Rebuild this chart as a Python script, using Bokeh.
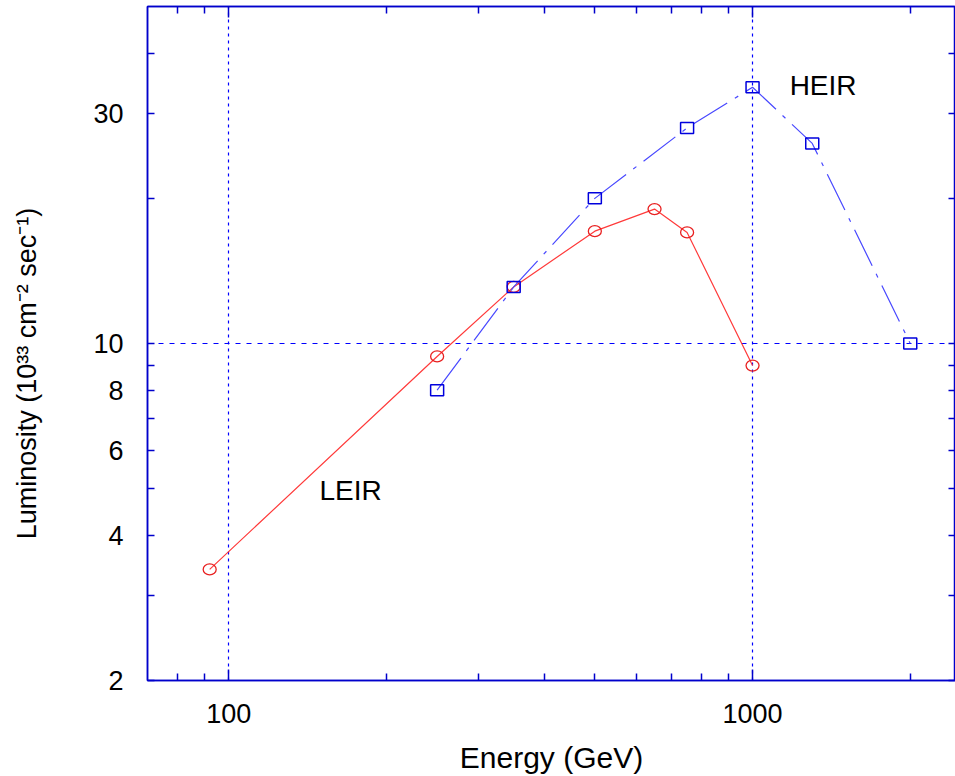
from bokeh.plotting import figure
from bokeh.models import LogAxis, FixedTicker, PrintfTickFormatter, Range1d, ColumnDataSource
from bokeh.embed import file_html
from bokeh.resources import INLINE
from bokeh.core.properties import value

# ---- data ----
leir_energy = [92, 250, 350, 500, 650, 750, 1000]
leir_lumi = [3.4, 9.4, 13.1, 17.1, 19.0, 17.0, 9.0]
heir_energy = [250, 350, 500, 750, 1000, 1300, 2000]
heir_lumi = [8.0, 13.1, 20.0, 28.0, 34.0, 26.0, 10.0]

x_major = [100, 1000]
x_minor = [80, 90, 200, 300, 400, 500, 600, 700, 800, 900, 2000]
y_major = [2, 4, 6, 8, 10, 30]
y_minor = [3, 5, 7, 9, 20, 40]
grid_x = [100, 1000]
grid_y = [10]

label_names = ["HEIR", "LEIR"]
label_x = [1177, 149]
label_y = [34.3, 4.95]

FONT = "Liberation Sans"
AXIS = "#0000cc"

p = figure(width=955, height=776, x_axis_type="log", y_axis_type="log",
           x_range=Range1d(70, 2440), y_range=Range1d(2, 50),
           output_backend="svg", toolbar_location=None,
           min_border_left=147, min_border_right=0, min_border_top=6,
           min_border_bottom=96)
p.outline_line_color = AXIS
p.outline_line_width = 1.5
p.background_fill_color = "white"
p.border_fill_color = "white"

xt = FixedTicker(ticks=x_major, minor_ticks=x_minor)
yt = FixedTicker(ticks=y_major, minor_ticks=y_minor)

def style_axis(ax, major_len, minor_len):
    ax.axis_line_color = AXIS
    ax.axis_line_width = 1.5
    ax.major_tick_line_color = AXIS
    ax.minor_tick_line_color = AXIS
    ax.major_tick_line_width = 1.5
    ax.minor_tick_line_width = 1.5
    ax.major_tick_in = major_len
    ax.major_tick_out = 0
    ax.minor_tick_in = minor_len
    ax.minor_tick_out = 0

xa = p.xaxis[0]
xa.ticker = xt
xa.formatter = PrintfTickFormatter(format="%d")
style_axis(xa, 11, 7)
xa.major_label_text_font = FONT
xa.major_label_text_font_size = "27px"
xa.major_label_text_color = "black"
xa.major_label_standoff = 23
xa.axis_label = "Energy (GeV)"
xa.axis_label_text_font = FONT
xa.axis_label_text_font_size = "30px"
xa.axis_label_text_font_style = "normal"
xa.axis_label_text_color = "black"
xa.axis_label_standoff = 15

ya = p.yaxis[0]
ya.ticker = yt
ya.formatter = PrintfTickFormatter(format="%d")
style_axis(ya, 7, 7)
ya.major_label_text_font = FONT
ya.major_label_text_font_size = "27px"
ya.major_label_text_color = "black"
ya.major_label_standoff = 24
ya.axis_label = "Luminosity (10\u00b3\u00b3 cm\u207b\u00b2 sec\u207b\u00b9)" + "\u00a0" * 8
ya.axis_label_text_font = FONT
ya.axis_label_text_font_size = "27px"
ya.axis_label_text_font_style = "normal"
ya.axis_label_text_color = "black"
ya.axis_label_standoff = 48

top = LogAxis(ticker=FixedTicker(ticks=x_major, minor_ticks=x_minor),
              major_label_text_font_size="1px", major_label_text_alpha=0,
              major_label_standoff=0)
style_axis(top, 11, 7)
p.add_layout(top, "above")
right = LogAxis(ticker=FixedTicker(ticks=y_major, minor_ticks=y_minor),
                major_label_overrides={v: "" for v in y_major},
                major_label_text_font_size="1px", major_label_text_alpha=0,
                major_label_standoff=0)
style_axis(right, 7, 7)
p.add_layout(right, "right")

p.xgrid.ticker = FixedTicker(ticks=grid_x)
p.ygrid.ticker = FixedTicker(ticks=grid_y)
p.xgrid.grid_line_color = "#0000ff"
p.ygrid.grid_line_color = "#0000ff"
p.xgrid.grid_line_dash = "3 4"
p.ygrid.grid_line_dash = "5 6"
p.xgrid.grid_line_width = 1.2
p.ygrid.grid_line_width = 1.2

leir = ColumnDataSource(dict(x=leir_energy, y=leir_lumi))
heir = ColumnDataSource(dict(x=heir_energy, y=heir_lumi))

p.line("x", "y", source=leir, line_color="#ff3a3a", line_width=1.2)
p.ellipse("x", "y", source=leir, width=13, height=11, width_units="screen",
          height_units="screen", fill_color=None, line_color="#e82020", line_width=1.3)

p.line("x", "y", source=heir, line_color="#4848ff", line_width=1.2, line_dash="40 9 4 9")
p.rect("x", "y", source=heir, width=13, height=11, width_units="screen",
       height_units="screen", fill_color=None, line_color="#0000dd", line_width=1.5)

labels = ColumnDataSource(dict(x=label_x, y=label_y, t=label_names))
p.text("x", "y", text="t", source=labels, text_font=value(FONT),
       text_font_size="28px", text_color="black", text_baseline="middle",
       text_align="left")

open("out.html", "w").write(file_html(p, INLINE))
